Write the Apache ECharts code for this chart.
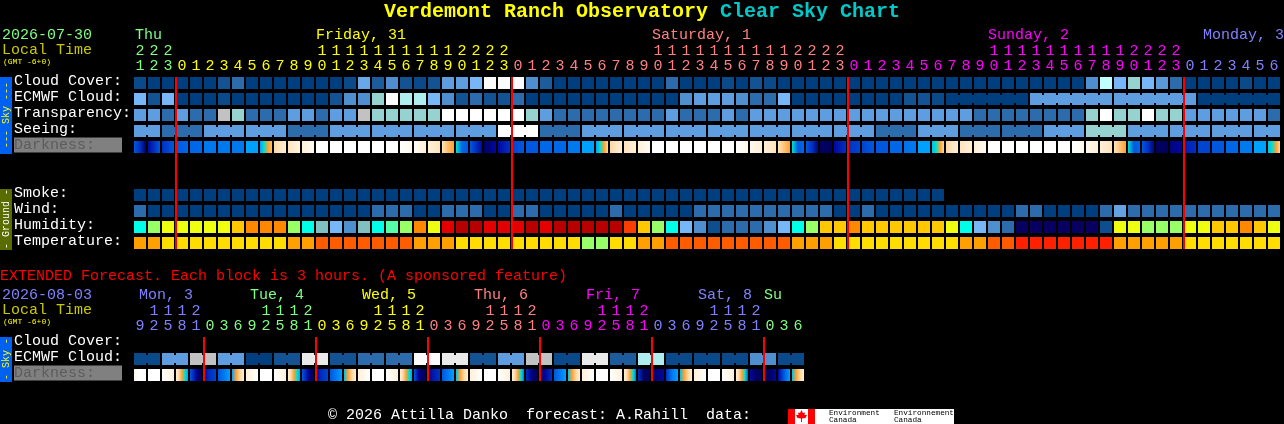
<!DOCTYPE html>
<html><head><meta charset="utf-8">
<style>html,body{margin:0;padding:0;background:#000}#c{width:1284px;height:424px}</style>
<script src="https://cdn.jsdelivr.net/npm/echarts@6/dist/echarts.min.js"></script>
</head><body><div id="c"></div>
<script>
// ---------- labels ----------
const rowLabels = ['Cloud Cover:','ECMWF Cloud:','Transparency:','Seeing:','Darkness:','','','Smoke:','Wind:','Humidity:','Temperature:'];
const extRowLabels = ['Cloud Cover:','ECMWF Cloud:','Darkness:'];
const hours = [21,22,23,0,1,2,3,4,5,6,7,8,9,10,11,12,13,14,15,16,17,18,19,20,21,22,23,0,1,2,3,4,5,6,7,8,9,10,11,12,13,14,15,16,17,18,19,20,21,22,23,0,1,2,3,4,5,6,7,8,9,10,11,12,13,14,15,16,17,18,19,20,21,22,23,0,1,2,3,4,5,6];
const hourColourRuns = [[3,'#80ff80'],[24,'#ffff00'],[24,'#ff8080'],[24,'#ff00ff'],[7,'#8080ff']];
const extHours = [9,12,15,18,21,0,3,6,9,12,15,18,21,0,3,6,9,12,15,18,21,0,3,6,9,12,15,18,21,0,3,6,9,12,15,18,21,0,3,6,9,12,15,18,21,0,3,6];
const extColourRuns = [[5,'#8080ff'],[8,'#80ff80'],[8,'#ffff00'],[8,'#ff8080'],[8,'#ff00ff'],[8,'#8080ff'],[3,'#80ff80']];
const midnightCols = [3,27,51,75];
const extMidnightCols = [5,13,21,29,37,45];

// ---------- series values ----------
const cloudCover = [5,0,0,0,0,0,10,20,0,0,0,0,0,0,0,5,45,15,30,10,5,10,40,40,50,100,100,100,30,15,0,0,0,0,0,0,0,0,20,0,0,0,5,0,10,5,0,0,0,0,0,0,0,0,0,0,0,0,0,0,0,0,0,0,0,0,0,0,30,75,50,60,50,35,20,0,0,0,0,5,0,0];
const ecmwfCloud = [50,10,50,0,0,0,5,0,0,0,0,0,0,0,10,30,30,60,100,70,70,50,30,10,20,10,10,20,0,0,0,0,0,0,0,0,0,0,0,30,40,40,40,30,20,20,50,0,0,0,0,0,0,0,0,10,10,5,0,0,0,0,0,0,40,40,40,40,40,40,40,40,40,40,40,40,0,0,0,0,0,0];
const transparency = [3,3,2,3,2,2,8,6,2,2,2,3,3,2,3,3,8,6,6,6,6,6,10,10,10,10,10,10,6,3,2,2,2,2,2,2,2,2,3,2,2,2,3,2,3,3,3,3,3,3,3,3,3,3,3,3,3,3,3,3,2,2,2,2,2,2,2,2,6,10,6,6,10,6,6,3,3,3,3,3,3,2];
const seeing = [3,3,2,2,2,3,3,3,3,3,3,2,2,2,3,3,3,3,3,3,3,3,3,3,3,3,10,10,10,2,2,2,3,3,3,3,3,3,3,3,3,3,3,3,3,3,3,3,3,3,3,3,3,2,2,2,3,3,3,2,2,2,2,2,2,3,3,3,6,6,6,3,3,3,3,3,3,3,3,3,3,3];
const smoke = [0,0,0,0,0,0,0,0,0,0,0,0,0,0,0,0,0,0,0,0,0,0,0,0,0,0,0,0,0,0,0,0,0,0,0,0,0,0,0,0,0,0,0,0,0,0,0,0,0,0,0,0,0,0,0,0,0,0];
const wind = [1,0,0,0,0,0,0,0,0,0,0,0,0,0,0,0,0,1,1,1,0,0,1,1,1,0,0,1,1,0,0,0,0,0,1,0,0,0,0,0,1,1,1,1,1,1,1,1,1,1,0,0,1,0,0,0,0,0,0,0,0,0,0,1,1,0,0,0,0,1,2,1,1,1,1,1,1,1,1,1,1,1];
const humidity = [50,60,65,65,65,65,65,70,75,75,75,60,50,45,40,35,45,50,55,60,75,65,85,90,90,85,85,85,90,85,90,90,90,90,90,80,70,60,50,40,35,25,30,30,30,35,40,50,60,70,70,75,70,70,70,70,70,70,65,50,40,35,30,20,20,20,20,20,20,25,65,65,60,60,60,65,65,70,70,75,70,65];
const temperature = [23,23,20,20,20,20,20,20,20,20,20,23,23,27,27,27,27,27,27,27,23,23,23,20,20,20,20,20,20,20,20,20,17,17,20,20,23,23,27,27,27,27,27,27,27,27,27,23,23,23,20,20,20,20,20,20,20,20,20,23,23,27,27,31,31,31,31,31,31,31,23,23,23,23,23,20,20,20,20,20,20,20];
const darkness = [
[7,8,10],[9,8,7],[8,7],[7,6.5],[6.5],[6],[6],[6],[5],[5,4,3,2.5],[2,1],[1.5,0.7],[1,0.3],[0],[0],[0],[0],[0],[0],[0,0.5],[0.3,1],[1,1.5],[1.5,2.5,3],[4,6.5,7],
[7,8,9],[10,9.5,9],[9,8],[7.5,7],[7],[6.5],[6.5],[6],[5],[5,4,3,2],[2,1],[1.5,1],[1,0.3],[0],[0],[0],[0],[0],[0],[0,0.5],[0.5,1],[1,1.5],[1.5,3],[4,7,6.5],
[7,8,9.5],[10],[9,8],[8,7.5],[7.5,7],[7],[6.5],[6.2,6],[5],[4.5,4,3,2],[2,1],[1.5,1],[1,0.3],[0],[0],[0],[0],[0],[0],[0,0.5],[0.5,1],[1,1.5],[1.5,3],[4,7,6.5],
[7,8,9.5],[10],[9.5,9],[8.5,8],[7.5],[7],[6.5],[6],[5],[4.5,4,3,2]];
const extEcmwf = [5,5,40,40,80,80,40,40,0,0,10,10,90,90,10,10,20,20,20,20,100,100,90,90,10,10,40,40,80,80,5,5,90,90,15,15,70,70,5,5,5,5,5,5,30,30,5,5];
const extDarkness = [
[0.7,0,0,0.2],[0],[0,0.5,1],[1,2,3,4,5],[7,8,9,10,10],[9,8,7.5],[7,6,5],[5,3,2,1],
[1,0],[0],[0,0.5,1],[1,2,3,4,5],[7,8,9,10,10],[9,8,7.5],[7,6,5],[4.5,3,2,1],
[1,0],[0],[0,0.5,1],[1,2,3,4,5],[7,9,10,10],[9.5,8.5,8],[7,6,5],[4.5,3,2,1],
[1,0],[0],[0,0.5,1],[1,2,3,4,6],[8,9,10,10],[10,9,8],[7,6,5],[4.5,3,2,1],
[1,0],[0],[0,0.5,1],[1,2,3,4,6],[8,10,10],[10,9.5,9],[8,6,5],[4.5,3,2,1],
[1,0],[0],[0,0.5,1],[1,2,3,4,7],[9,10,10],[10,10,9],[9,7,5],[4.5,3,2,1]];

// ---------- colour scales ----------
const cloudScale = {0:'#003f7f',5:'#0b4a8a',10:'#135393',15:'#1c5c9c',20:'#2c6cac',30:'#4f8fcf',35:'#5a9ad8',40:'#5e9ee0',45:'#68a8e8',50:'#77b7f7',60:'#96d2d0',70:'#aeeeee',75:'#bfffff',80:'#c2c2c2',90:'#eaeaea',100:'#fbfbfb'};
const windScale = {0:'#003f7f',1:'#2c6cac',2:'#63a3e3'};
const levelScale = {0:'#003f7f',2:'#2c6cac',3:'#5e9ee0',6:'#96d2d0',8:'#c2c2c2',10:'#ffffff'};
const humidityScale = {20:'#080060',25:'#0e4e8e',30:'#2c6cac',35:'#4f8fcf',40:'#77b7f7',45:'#80c0c0',50:'#00ffe8',55:'#55ffaa',60:'#99ff66',65:'#eeff10',70:'#ffc800',75:'#ff8800',80:'#ff3c00',85:'#e40000',90:'#b80000'};
const temperatureScale = {17:'#99ff66',20:'#ffdd00',23:'#ffa000',27:'#ff5c00',31:'#ff2000'};
const darkScale = ['#ffffff','#fff0d8','#ffd8a0','#ffa030','#00e0d0','#00a0ff','#0078f0','#0058e0','#0030c0','#0008a0','#000060'];
function darkColour(v){
  const a=Math.floor(v), b=Math.min(10,a+1), t=v-a;
  const p=s=>[1,3,5].map(k=>parseInt(s.substr(k,2),16));
  const A=p(darkScale[a]),B=p(darkScale[b]);
  return 'rgb('+A.map((x,k)=>Math.round(x+(B[k]-x)*t)).join(',')+')';
}
function runColours(runs){const out=[];runs.forEach(([n,c])=>{for(let k=0;k<n;k++)out.push(c)});return out}
const hourColours = runColours(hourColourRuns), extColours = runColours(extColourRuns);

// ---------- series builders ----------
const noJoin=()=>false;
function cellSeries(gridIdx,row,values,fillOf,joins){
  return {type:'custom',xAxisIndex:gridIdx,yAxisIndex:gridIdx,encode:{x:0,y:1},silent:true,clip:false,
    data:values.map((v,i)=>[i,row,i]),
    renderItem(params,api){
      const i=api.value(0), c=api.coord([i,row]), fill=fillOf(values[i]);
      const children=[{type:'rect',shape:{x:c[0]-6,y:c[1]-6,width:12,height:12},style:{fill}}];
      if(joins(i)) children.push({type:'rect',shape:{x:c[0]+6,y:c[1]-4,width:2,height:8},style:{fill}});
      return {type:'group',children};
    }};
}
function gradient(stops){
  if(stops.length===1) return darkColour(stops[0]);
  return {type:'linear',x:0,y:0,x2:1,y2:0,colorStops:stops.map((v,k)=>({offset:k/(stops.length-1),color:darkColour(v)}))};
}
function redLines(gridIdx,cols,topRow,bottomRow){
  return {type:'custom',xAxisIndex:gridIdx,yAxisIndex:gridIdx,encode:{x:0,y:1},silent:true,clip:false,z:10,
    data:cols.map(c=>[c,topRow]),
    renderItem(params,api){
      const a=api.coord([api.value(0),topRow]), b=api.coord([api.value(0),bottomRow]);
      return {type:'rect',shape:{x:a[0]-7,y:a[1]-6,width:2,height:b[1]-a[1]+12},style:{fill:'#ff0000'}};
    }};
}
const FONT='"Liberation Mono","DejaVu Sans Mono",monospace';
function xAxis(gridIdx,data,colours){
  return {type:'category',gridIndex:gridIdx,position:'top',data:data.map(String),
    axisLine:{show:false},axisTick:{show:false},splitLine:{show:false},
    axisLabel:{interval:0,margin:1,fontFamily:FONT,fontSize:15,lineHeight:15,hideOverlap:false,
      color:(v,i)=>colours[i],
      formatter:v=>(v.length>1?v[0]:' ')+'\n'+v[v.length-1]}};
}
function yAxis(gridIdx,data){
  return {type:'category',gridIndex:gridIdx,inverse:true,data,
    axisLine:{show:false},axisTick:{show:false},splitLine:{show:false},
    axisLabel:{interval:0,margin:119,align:'left',fontFamily:FONT,fontSize:15,color:'#ffffff',hideOverlap:false,padding:[0,0,4,0],
      formatter:v=>v==='Darkness:'?'{d|'+v+'}':v,
      rich:{d:{fontFamily:FONT,fontSize:15,color:'#5c5c5c',backgroundColor:'#808080',width:108,height:15,lineHeight:15}}}};
}
const blockJoin=i=>(i+1)%3!==2 && i<81;
const ecmwfJoin=i=>i>=58 && i<81 && (i-58)%6!==5;
const pairJoin=i=>i%2===0;
const series=[
  cellSeries(0,0,cloudCover,v=>cloudScale[v],noJoin),
  cellSeries(0,1,ecmwfCloud,v=>cloudScale[v],ecmwfJoin),
  cellSeries(0,2,transparency,v=>levelScale[v],noJoin),
  cellSeries(0,3,seeing,v=>levelScale[v],blockJoin),
  cellSeries(0,4,darkness,gradient,noJoin),
  cellSeries(0,7,smoke,v=>levelScale[v],noJoin),
  cellSeries(0,8,wind,v=>windScale[v],noJoin),
  cellSeries(0,9,humidity,v=>humidityScale[v],noJoin),
  cellSeries(0,10,temperature,v=>temperatureScale[v],noJoin),
  redLines(0,midnightCols,0,10),
  cellSeries(1,1,extEcmwf,v=>cloudScale[v],pairJoin),
  cellSeries(1,2,extDarkness,gradient,noJoin),
  redLines(1,extMidnightCols,0,2)
];

// ---------- page furniture ----------
const t=(text,x,y,fill,size,extra)=>Object.assign({type:'text',x,y,z:20,silent:true,
  style:{text,fill,font:(extra&&extra.bold?'bold ':'')+size+'px '+FONT,verticalAlign:'middle',align:(extra&&extra.align)||'left'}},
  extra&&extra.rotation?{rotation:extra.rotation}:{});
const r=(x,y,w,h,fill)=>({type:'rect',z:15,silent:true,shape:{x,y,width:w,height:h},style:{fill}});
const UP=Math.PI/2;
const graphic=[
  t('Verdemont Ranch Observatory',384,12,'#ffff00',20,{bold:true}),
  t('Clear Sky Chart',720,12,'#00c8c8',20,{bold:true}),
  t('2026-07-30',2,35,'#80ff80',15),
  t('Local Time',2,50,'#c8c800',15),
  t('(GMT -6+0)',3,62,'#ffff00',8),
  t('Thu',135,35,'#80ff80',15),
  t('Friday, 31',316,35,'#ffff00',15),
  t('Saturday, 1',652,35,'#ff8080',15),
  t('Sunday, 2',988,35,'#ff00ff',15),
  t('Monday, 3',1203,35,'#8080ff',15),
  r(0,77,12,77,'#0060f0'),
  t('--- Sky ---',6,115,'#ffff00',10,{rotation:UP,align:'center'}),
  r(0,189,12,61,'#586c00'),
  t('- Ground -',6,219,'#ffffff',10,{rotation:UP,align:'center'}),
  t('EXTENDED Forecast. Each block is 3 hours. (A sponsored feature)',0,276,'#ff0000',15),
  t('2026-08-03',2,295,'#8080ff',15),
  t('Local Time',2,310,'#c8c800',15),
  t('(GMT -6+0)',3,322,'#ffff00',8),
  t('Mon, 3',139,295,'#8080ff',15),
  t('Tue, 4',250,295,'#80ff80',15),
  t('Wed, 5',362,295,'#ffff00',15),
  t('Thu, 6',474,295,'#ff8080',15),
  t('Fri, 7',586,295,'#ff00ff',15),
  t('Sat, 8',698,295,'#8080ff',15),
  t('Su',764,295,'#80ff80',15),
  r(0,337,12,45,'#0060f0'),
  t('- Sky -',6,359,'#ffff00',10,{rotation:UP,align:'center'}),
  t('© 2026 Attilla Danko  forecast: A.Rahill  data:',328,415,'#ffffff',15),
  r(788,409,166,15,'#ffffff'),
  r(788,409,7,15,'#ff0000'),
  r(808,409,7,15,'#ff0000'),
  {type:'polygon',z:16,silent:true,shape:{points:[[801.5,410],[803,413],[805,412.5],[804.5,415],[807,415],[805.5,418],[802,418.5],[802,422],[801,422],[801,418.5],[797.5,418],[796,415],[798.5,415],[798,412.5],[800,413]]},style:{fill:'#ff0000'}},
  t('Environment',829,413,'#000000',7.7),
  t('Canada',829,420,'#000000',7.7),
  t('Environnement',894,413,'#000000',7.7),
  t('Canada',894,420,'#000000',7.7)
];

const chart=echarts.init(document.getElementById('c'),null,{width:1284,height:424,renderer:'canvas'});
chart.setOption({
  animation:false,backgroundColor:'#000000',tooltip:{show:false},
  grid:[{left:133,top:75,width:14*hours.length,height:16*rowLabels.length,containLabel:false},
        {left:133,top:335,width:14*extHours.length,height:16*extRowLabels.length,containLabel:false}],
  xAxis:[xAxis(0,hours,hourColours),xAxis(1,extHours,extColours)],
  yAxis:[yAxis(0,rowLabels),yAxis(1,extRowLabels)],
  series,graphic
});
</script></body></html>
